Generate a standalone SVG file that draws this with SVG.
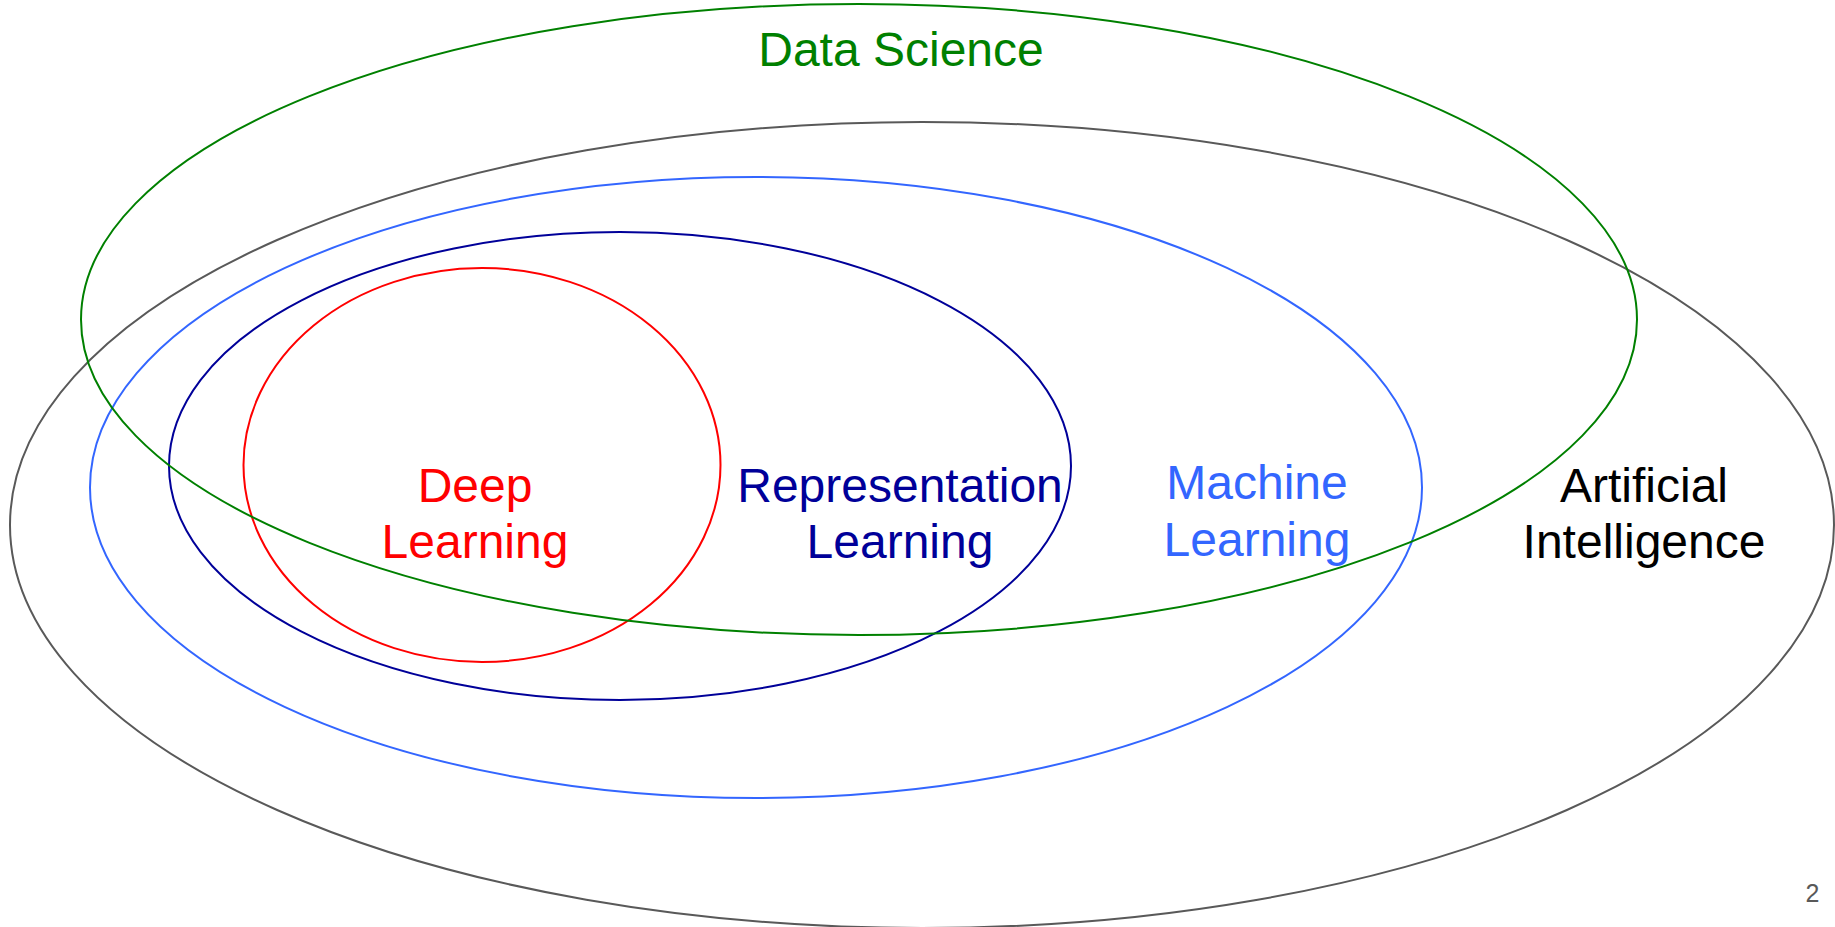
<svg xmlns="http://www.w3.org/2000/svg" width="1835" height="927" viewBox="0 0 1835 927">
<style>
  .set { fill: none; stroke-width: 2; }
  .lbl { font-family: "Liberation Sans", Arial, sans-serif; font-size: 48px; text-anchor: middle; }
</style>
<rect width="1835" height="927" fill="#ffffff"/>
<g id="ai">
  <ellipse class="set" cx="922" cy="525" rx="912" ry="403" stroke="#595959"/>
  <text class="lbl" fill="#000000"><tspan x="1644" y="502">Artificial</tspan><tspan x="1644" y="558">Intelligence</tspan></text>
</g>
<g id="ml">
  <ellipse class="set" cx="756" cy="487.5" rx="666" ry="310.5" stroke="#3366ff"/>
  <text class="lbl" fill="#3366ff"><tspan x="1257" y="499">Machine</tspan><tspan x="1257" y="556">Learning</tspan></text>
</g>
<g id="rl">
  <ellipse class="set" cx="620" cy="466" rx="451" ry="234" stroke="#000099"/>
  <text class="lbl" fill="#000099"><tspan x="900" y="502">Representation</tspan><tspan x="900" y="558">Learning</tspan></text>
</g>
<g id="dl">
  <ellipse class="set" cx="482" cy="465" rx="238.5" ry="197" stroke="#ff0000"/>
  <text class="lbl" fill="#ff0000"><tspan x="475" y="502">Deep</tspan><tspan x="475" y="558">Learning</tspan></text>
</g>
<g id="ds">
  <ellipse class="set" cx="859" cy="319.5" rx="778" ry="315.5" stroke="#008000"/>
  <text class="lbl" fill="#008000" x="901" y="66">Data Science</text>
</g>
<g id="connectors"></g>
<g id="page-number">
  <text x="1812.5" y="902" font-family="Liberation Sans, Arial, sans-serif" font-size="25" fill="#595959" text-anchor="middle">2</text>
</g>
</svg>
